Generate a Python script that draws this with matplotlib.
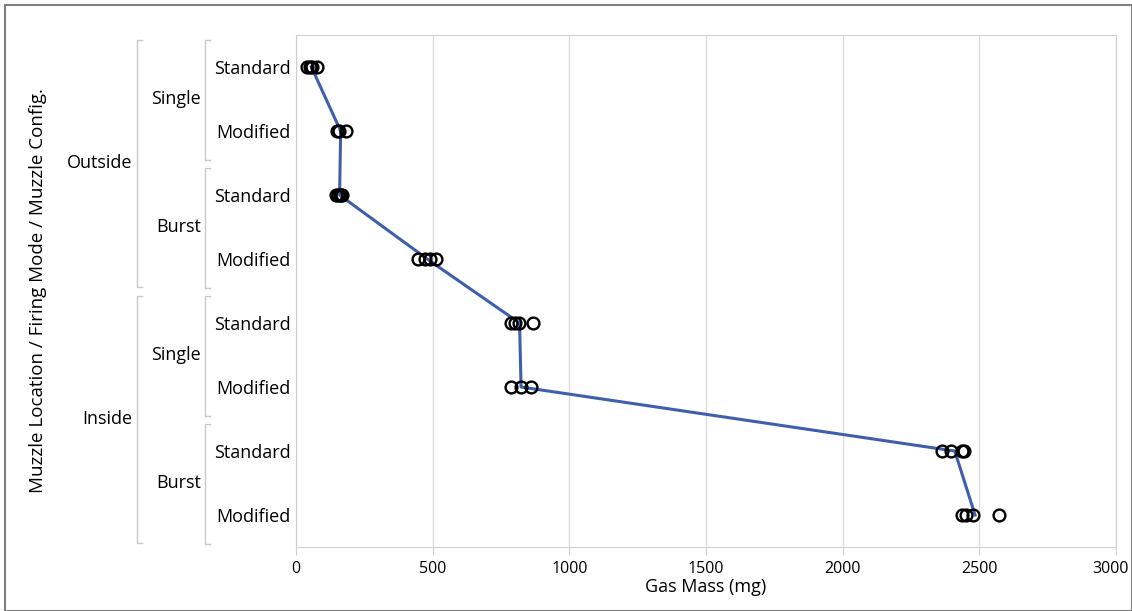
import numpy as np
import matplotlib.pyplot as plt
from matplotlib import transforms
from matplotlib.patches import Rectangle

plt.rcParams['font.family'] = ['Open Sans', 'DejaVu Sans']

# --- Data (gas mass in mg per group) ---
locations = ["Outside", "Inside"]
modes = ["Single", "Burst"]
configs = ["Standard", "Modified"]

out_single_std = [42, 50, 58, 75]
out_single_mod = [150, 156, 184]
out_burst_std = [148, 154, 160, 165, 170]
out_burst_mod = [446, 472, 490, 512]
in_single_std = [787, 801, 816, 867]
in_single_mod = [787, 823, 860]
in_burst_std = [2363, 2396, 2437, 2444]
in_burst_mod = [2437, 2451, 2477, 2572]

groups = [out_single_std, out_single_mod, out_burst_std, out_burst_mod,
          in_single_std, in_single_mod, in_burst_std, in_burst_mod]
row_labels = configs * 4
means = [np.mean(g) for g in groups]

# --- Figure ---
fig = plt.figure(figsize=(11.32, 6.11), dpi=100)
ax = fig.add_axes([0.2615, 0.1047, 0.7244, 0.838])

frame = "#d0d0d0"
for i, g in enumerate(groups):
    ax.plot(g, [i] * len(g), 'o', ms=8.5, mfc='none', mec='black', mew=1.7, zorder=3)
ax.plot(means, range(len(groups)), color='#3f5fad', lw=2.2, zorder=2)

ax.set_xlim(0, 3000)
ax.set_ylim(7.5, -0.5)
ax.set_xticks(range(0, 3001, 500))
ax.grid(axis='x', color='#dddddd', lw=1)
ax.set_axisbelow(True)
ax.set_yticks(range(len(groups)))
ax.set_yticklabels(row_labels, fontsize=13)
ax.tick_params(axis='y', length=0, pad=4)
ax.tick_params(axis='x', length=6, color=frame, labelsize=11.5, pad=4)
for s in ax.spines.values():
    s.set_color(frame)
ax.set_xlabel("Gas Mass (mg)", fontsize=13, labelpad=1)

# nudge the last x label so it stays inside the figure
fig.canvas.draw()
last = ax.get_xticklabels()[-1]
last.set_transform(last.get_transform() +
                   transforms.ScaledTranslation(-4 / 72, 0, fig.dpi_scale_trans))

# --- Nested category labels with brackets ---
tr = transforms.blended_transform_factory(ax.transAxes, ax.transData)
bcol = "#c8c8c8"

def bracket(x, y0, y1):
    ax.plot([x + 0.006, x, x, x + 0.006], [y0, y0, y1, y1], color=bcol, lw=1,
            transform=tr, clip_on=False)

for k, mode_row in enumerate(range(0, 8, 2)):
    bracket(-0.111, mode_row - 0.42, mode_row + 1.45)
    ax.text(-0.116, mode_row + 0.5, modes[k % 2], transform=tr, ha='right',
            va='center', fontsize=13)

for k, loc_row in enumerate(range(0, 8, 4)):
    bracket(-0.194, loc_row - 0.42, loc_row + 3.44)
    ax.text(-0.199, loc_row + 1.5, locations[k], transform=tr, ha='right',
            va='center', fontsize=13)

fig.text(0.034, 0.524, "Muzzle Location / Firing Mode / Muzzle Config.",
         rotation=90, ha='center', va='center', fontsize=13.5)

# outer border
fig.patches.append(Rectangle((0.004, 0.0), 0.996, 0.992, transform=fig.transFigure,
                             fill=False, edgecolor='#808080', lw=1.5))

fig.savefig("out.png", dpi=100)
